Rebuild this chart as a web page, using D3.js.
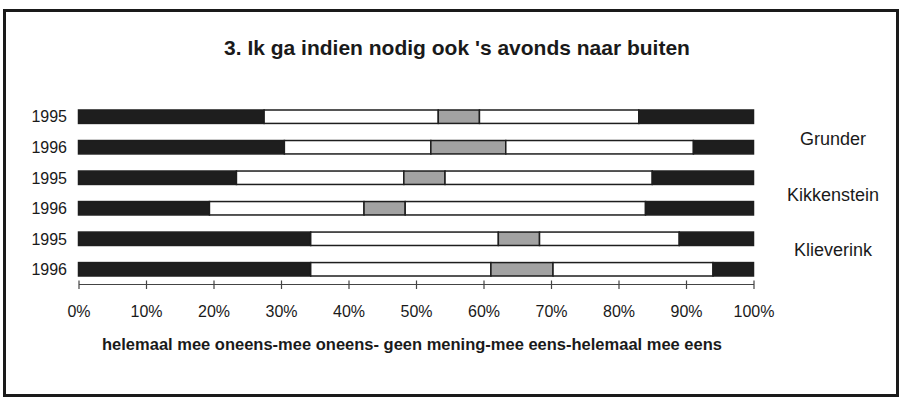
<!DOCTYPE html>
<html>
<head>
<meta charset="utf-8">
<script src="https://cdn.jsdelivr.net/npm/d3@7"></script>
<style>
  html, body { margin: 0; padding: 0; background: #fff; }
  svg { display: block; font-family: 'Liberation Sans', Arial, sans-serif; }
</style>
</head>
<body>
<div id="chart"></div>
<script>
// data (percentages per answer)
const years = ['1995', '1996', '1995', '1996', '1995', '1996'];
const groups = ['Grunder', 'Kikkenstein', 'Klieverink'];
const answers = ['helemaal mee oneens', 'mee oneens', 'geen mening', 'mee eens', 'helemaal mee eens'];
const heleOneens = [27.5, 30.5, 23.4, 19.4, 34.4, 34.4];
const meeOneens  = [25.8, 21.7, 24.8, 22.9, 27.8, 26.7];
const geenMening = [6.1, 11.1, 6.1, 6.1, 6.1, 9.2];
const meeEens    = [23.6, 27.8, 30.7, 35.6, 20.7, 23.7];
const heleEens   = [17.0, 8.9, 15.0, 16.0, 11.0, 6.0];
const xTicks = [0, 10, 20, 30, 40, 50, 60, 70, 80, 90, 100];

const title = "3. Ik ga indien nodig ook 's avonds naar buiten";
const xTitle = 'helemaal mee oneens-mee oneens- geen mening-mee eens-helemaal mee eens';

const width = 901;
const height = 398;

// build rows for the stack
const rows = years.map((y, i) => ({
  id: i,
  year: y,
  'helemaal mee oneens': heleOneens[i],
  'mee oneens': meeOneens[i],
  'geen mening': geenMening[i],
  'mee eens': meeEens[i],
  'helemaal mee eens': heleEens[i]
}));

const svg = d3.select('#chart')
  .append('svg')
    .attr('width', width)
    .attr('height', height);

// frame
svg.append('rect')
  .attr('x', 4.5)
  .attr('y', 10.5)
  .attr('width', 893)
  .attr('height', 385)
  .style('fill', '#fff')
  .style('stroke', '#1a1a1a')
  .style('stroke-width', 3);

// title
svg.append('text')
  .attr('x', 457)
  .attr('y', 55)
  .attr('text-anchor', 'middle')
  .style('font-size', '21px')
  .style('font-weight', 700)
  .style('fill', '#1a1a1a')
  .text(title);

//
// scales
//
const xScale = d3.scaleLinear()
  .domain([0, 100])
  .range([78.5, 753.5]);

const yScale = d3.scaleBand()
  .domain(rows.map(d => d.id))
  .range([110, 276])
  .paddingInner(0.56)
  .paddingOuter(0);

const color = d3.scaleOrdinal()
  .domain(answers)
  .range(['#1e1e1e', '#ffffff', '#a2a2a2', '#ffffff', '#1e1e1e']);

const stack = d3.stack().keys(answers);
const series = stack(rows);

//
// bars
//
const barGroup = svg.append('g').attr('class', 'bars');

barGroup.selectAll('g.series')
  .data(series)
  .enter().append('g')
    .attr('class', 'series')
    .style('fill', d => color(d.key))
  .selectAll('rect')
  .data(d => d)
  .enter().append('rect')
    .attr('x', d => xScale(d[0]))
    .attr('y', d => yScale(d.data.id))
    .attr('width', d => xScale(d[1]) - xScale(d[0]))
    .attr('height', yScale.bandwidth())
    .style('stroke', '#1e1e1e')
    .style('stroke-width', 1.5);

//
// x axis
//
const axisY = 284;
const xAxis = d3.axisBottom(xScale)
  .tickValues(xTicks)
  .tickSizeOuter(0)
  .tickSizeInner(5)
  .tickFormat(d => `${d}%`);

const gx = svg.append('g')
  .attr('class', 'x axis')
  .attr('transform', `translate(0, ${axisY})`)
  .call(xAxis);

gx.select('.domain')
  .style('stroke', '#444')
  .style('stroke-width', 1.2);
gx.selectAll('.tick line')
  .attr('y1', -3.5)
  .style('stroke', '#444')
  .style('stroke-width', 1.2);
gx.selectAll('.tick text')
  .attr('y', 0)
  .attr('dy', 33)
  .style('font-size', '16px')
  .style('font-family', "'Liberation Sans', Arial, sans-serif")
  .style('fill', '#1a1a1a');

// year labels
svg.append('g')
  .attr('class', 'y labels')
  .selectAll('text')
  .data(rows)
  .enter().append('text')
    .attr('x', 67)
    .attr('y', d => yScale(d.id) + yScale.bandwidth() / 2)
    .attr('dy', '0.36em')
    .attr('text-anchor', 'end')
    .style('font-size', '16px')
    .style('fill', '#1a1a1a')
    .text(d => d.year);

// group labels
const groupScale = d3.scalePoint()
  .domain(groups)
  .range([139, 250]);

svg.append('g')
  .attr('class', 'group labels')
  .selectAll('text')
  .data(groups)
  .enter().append('text')
    .attr('x', 833)
    .attr('y', d => groupScale(d))
    .attr('dy', '0.36em')
    .attr('text-anchor', 'middle')
    .style('font-size', '18px')
    .style('fill', '#1a1a1a')
    .text(d => d);

// x axis title
svg.append('text')
  .attr('x', 412)
  .attr('y', 350)
  .attr('text-anchor', 'middle')
  .style('font-size', '16.5px')
  .style('font-weight', 700)
  .style('fill', '#1a1a1a')
  .text(xTitle);
</script>
</body>
</html>
